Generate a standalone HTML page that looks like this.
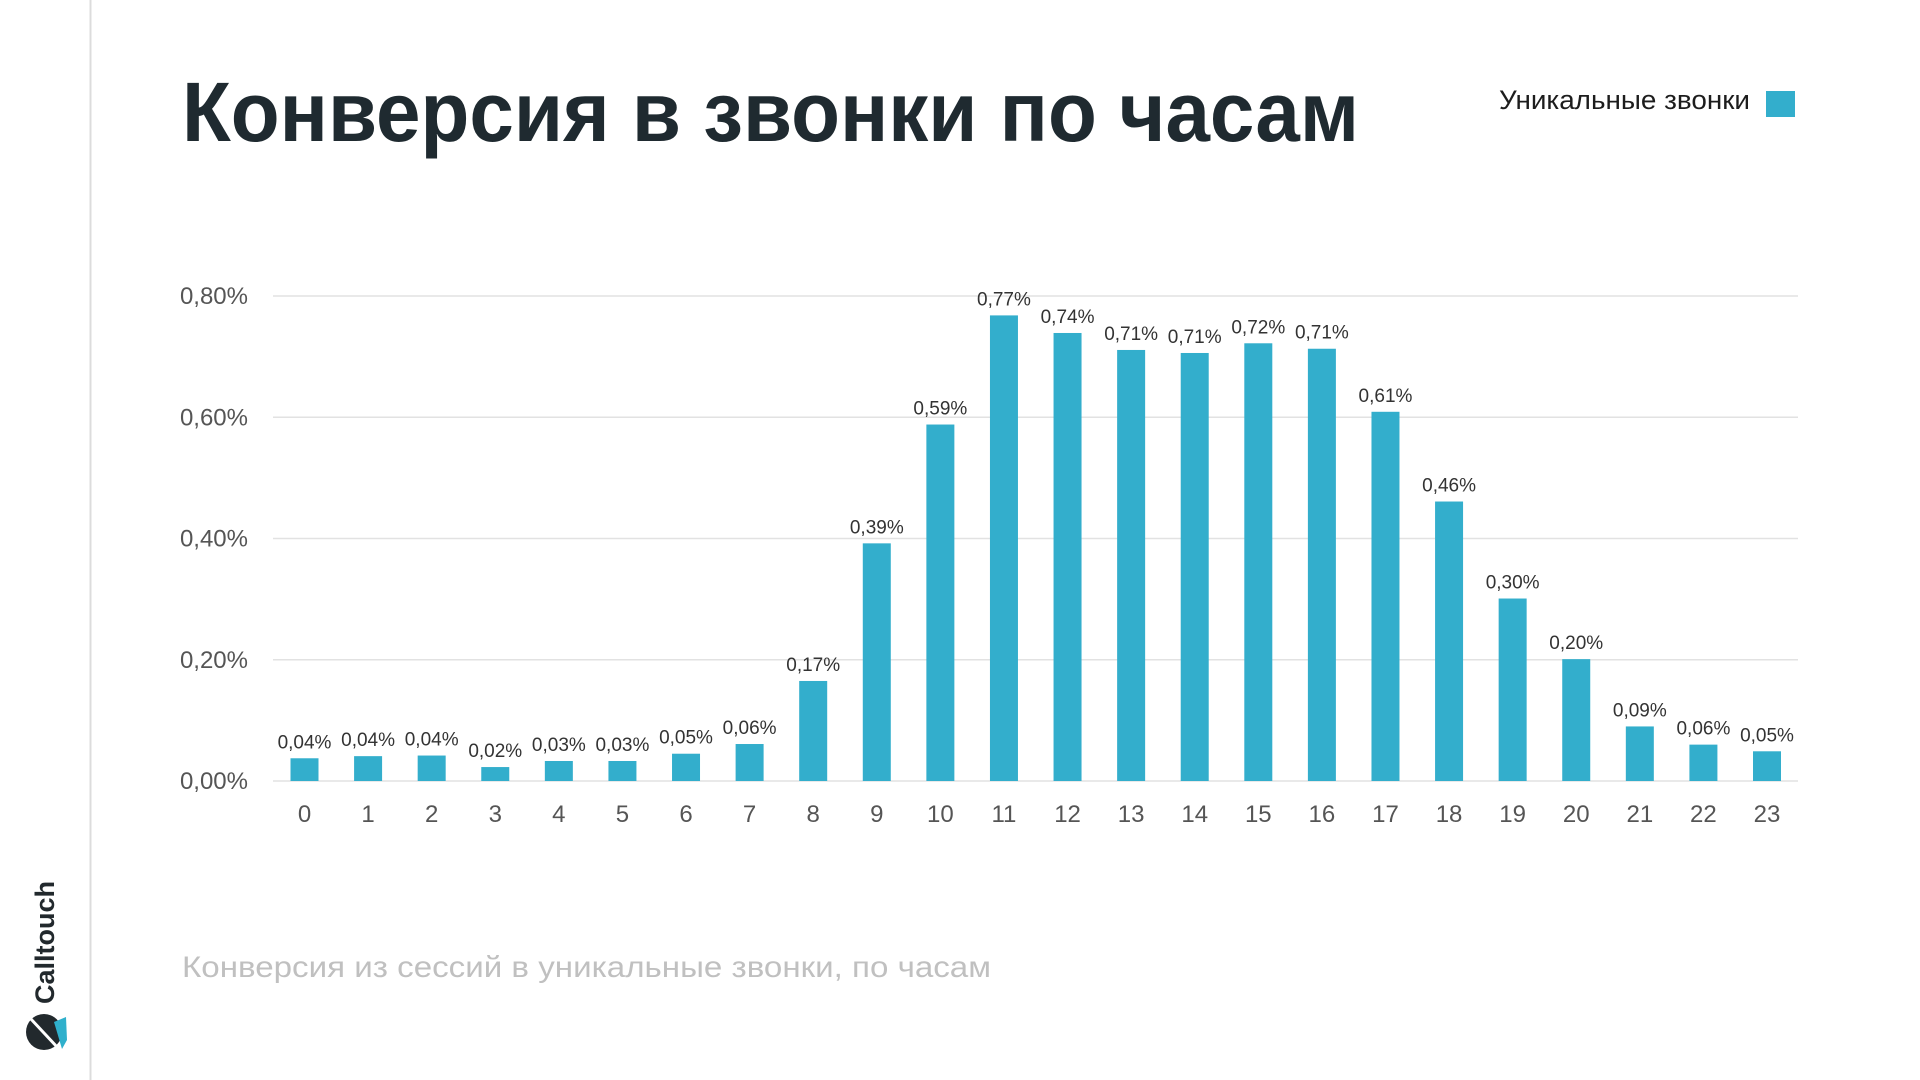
<!DOCTYPE html>
<html><head><meta charset="utf-8"><style>
html,body{margin:0;padding:0;background:#fff;width:1920px;height:1080px;overflow:hidden}
svg{display:block;font-family:"Liberation Sans","Noto Sans CJK SC",sans-serif}
</style></head><body>
<svg id="c" width="1920" height="1080" viewBox="0 0 1920 1080">
<line x1="90.5" y1="0" x2="90.5" y2="1080" stroke="#dcdcdc" stroke-width="2"/>
<g>
<text x="0" y="0" transform="translate(54,1004) rotate(-90)" font-size="27" font-weight="bold" fill="#22292d">Calltouch</text>
<circle cx="44" cy="1032" r="18" fill="#22292d"/>
<line x1="30" y1="1018" x2="58" y2="1048" stroke="#fff" stroke-width="3"/>
<path d="M54 1022 L66 1017 L67 1040 L62 1049 Z" fill="#2fb0cc"/>
</g>
<text x="182" y="141" font-size="84" font-weight="bold" fill="#1f2a30" textLength="1177" lengthAdjust="spacingAndGlyphs">Конверсия в звонки по часам</text>
<text x="1499" y="109" font-size="27" fill="#1d1d1d" textLength="251" lengthAdjust="spacingAndGlyphs">Уникальные звонки</text>
<rect x="1766" y="91" width="29" height="26" fill="#33aecc"/>
<text x="182" y="977" font-size="30" fill="#c0c0c0" textLength="809" lengthAdjust="spacingAndGlyphs">Конверсия из сессий в уникальные звонки, по часам</text>
<g id="grid"></g><g id="bars"></g>
</svg>
<script>
const categories = ["0","1","2","3","4","5","6","7","8","9","10","11","12","13","14","15","16","17","18","19","20","21","22","23"];
const values = [0.0375,0.041,0.042,0.023,0.033,0.033,0.045,0.061,0.165,0.392,0.588,0.768,0.739,0.711,0.706,0.722,0.713,0.609,0.461,0.301,0.201,0.090,0.060,0.049];
const valueLabels = ["0,04%","0,04%","0,04%","0,02%","0,03%","0,03%","0,05%","0,06%","0,17%","0,39%","0,59%","0,77%","0,74%","0,71%","0,71%","0,72%","0,71%","0,61%","0,46%","0,30%","0,20%","0,09%","0,06%","0,05%"];
const yTicks = [0,0.2,0.4,0.6,0.8];
const yTickLabels = ["0,00%","0,20%","0,40%","0,60%","0,80%"];
const NS="http://www.w3.org/2000/svg";
const plotL=273, plotR=1798, y0=781, y1=296, maxV=0.8;
const yScale=v=>y0-(v/maxV)*(y0-y1);
const step=(1767-304.5)/23;
const xScale=i=>304.5+i*step;
const grid=document.getElementById('grid'), bars=document.getElementById('bars');
function mk(tag,attrs){const e=document.createElementNS(NS,tag);for(const k in attrs)e.setAttribute(k,attrs[k]);return e;}
yTicks.forEach((t,i)=>{
  const y=yScale(t);
  const l=mk('line',{x1:plotL,x2:plotR,y1:y,y2:y,stroke:'#e2e2e2','stroke-width':1.5});
  
  
  grid.appendChild(l);
  const tx=mk('text',{x:248,y:y+8,'text-anchor':'end','font-size':24,fill:'#555'});
  
  
  tx.textContent=yTickLabels[i];grid.appendChild(tx);
});
categories.forEach((c,i)=>{
  const cx=xScale(i), w=28, y=yScale(values[i]);
  const r=mk('rect',{x:cx-w/2,y:y,width:w,height:y0-y,fill:'#33aecc'});
  
  
  bars.appendChild(r);
  const v=mk('text',{x:cx,y:y-10,'text-anchor':'middle','font-size':19,fill:'#333'});
  
  
  v.textContent=valueLabels[i];bars.appendChild(v);
  const xl=mk('text',{x:cx,y:822,'text-anchor':'middle','font-size':24,fill:'#555'});
  
  
  xl.textContent=c;bars.appendChild(xl);
});
</script>
</body></html>
